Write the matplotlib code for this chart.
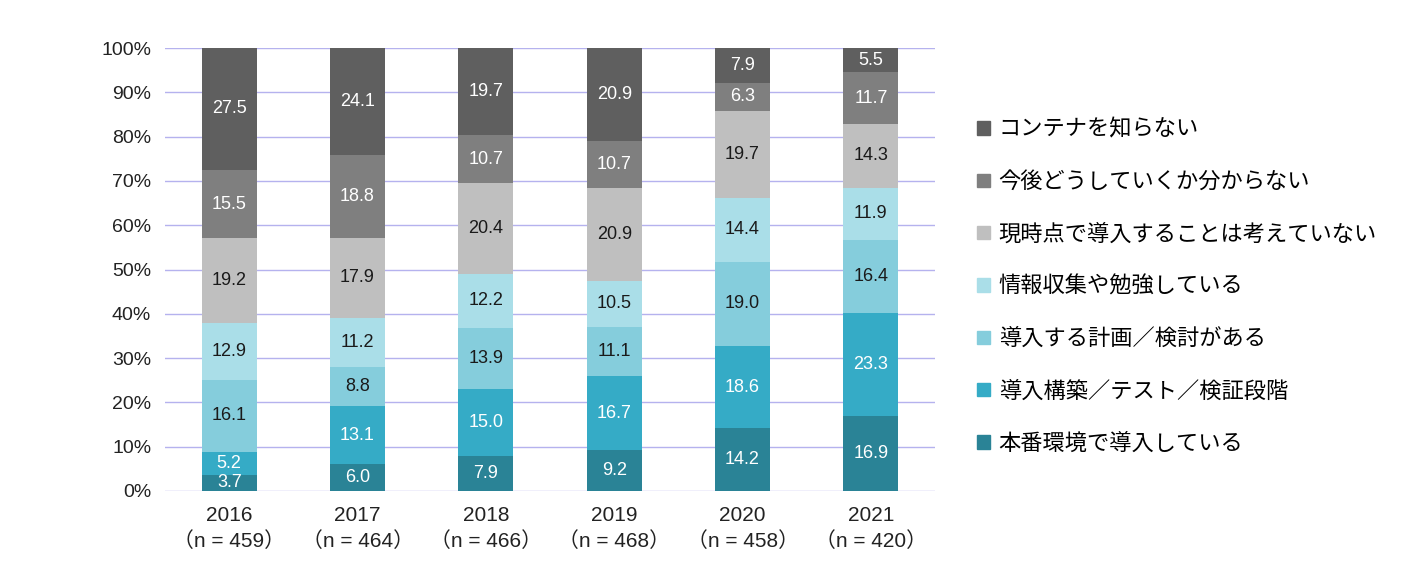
import matplotlib.pyplot as plt
import numpy as np
from matplotlib.patches import Patch

plt.rcParams['font.family'] = ['Liberation Sans', 'Noto Sans CJK JP', 'DejaVu Sans']

years = ["2016", "2017", "2018", "2019", "2020", "2021"]
n_counts = [459, 464, 466, 468, 458, 420]

# series from bottom to top of the stack
labels = [
    "本番環境で導入している",
    "導入構築／テスト／検証段階",
    "導入する計画／検討がある",
    "情報収集や勉強している",
    "現時点で導入することは考えていない",
    "今後どうしていくか分からない",
    "コンテナを知らない",
]
honban = [3.7, 6.0, 7.9, 9.2, 14.2, 16.9]
kouchiku = [5.2, 13.1, 15.0, 16.7, 18.6, 23.3]
keikaku = [16.1, 8.8, 13.9, 11.1, 19.0, 16.4]
jouhou = [12.9, 11.2, 12.2, 10.5, 14.4, 11.9]
genjiten = [19.2, 17.9, 20.4, 20.9, 19.7, 14.3]
kongo = [15.5, 18.8, 10.7, 10.7, 6.3, 11.7]
shiranai = [27.5, 24.1, 19.7, 20.9, 7.9, 5.5]
series = [honban, kouchiku, keikaku, jouhou, genjiten, kongo, shiranai]

colors = ["#2a8396", "#35abc6", "#85cddc", "#aadee8", "#bfbfbf", "#7f7f7f", "#5f5f5f"]
text_colors = ["white", "white", "#1a1a1a", "#1a1a1a", "#1a1a1a", "white", "white"]

fig = plt.figure(figsize=(14.06, 5.79), dpi=100)
ax = fig.add_axes([0.1174, 0.152, 0.5476, 0.765])

x = np.arange(len(years))
# 100% stacked: scale each column so it totals exactly 100
totals = np.sum(np.array(series), axis=0)
bottom = np.zeros(len(years))
for vals, c, tc in zip(series, colors, text_colors):
    vals = np.array(vals)
    h = vals / totals * 100
    ax.bar(x, h, bottom=bottom, width=0.43, color=c, zorder=2)
    for xi, b, hh, v in zip(x, bottom, h, vals):
        ax.text(xi, b + hh / 2, f"{v:.1f}", ha="center", va="center",
                color=tc, fontsize=13, zorder=3)
    bottom += h

ax.set_xlim(-0.5, len(years) - 0.5)
ax.set_ylim(0, 100)
ax.set_yticks(np.arange(0, 101, 10))
ax.set_yticklabels([f"{v}%" for v in range(0, 101, 10)], fontsize=14, color="#222222")
ax.set_xticks(x)
ax.set_xticklabels([f"{y}\n（n = {n}）" for y, n in zip(years, n_counts)],
                   fontsize=15, color="#222222", linespacing=1.35)
ax.tick_params(axis="y", length=0, pad=10)
ax.tick_params(axis="x", length=0, pad=11)
ax.grid(axis="y", color="#b5b2ee", linewidth=1, zorder=0)
for s in ax.spines.values():
    s.set_visible(False)

handles = [Patch(color=c, label=l) for c, l in zip(colors, labels)][::-1]
fig.legend(handles=handles, loc="upper left", bbox_to_anchor=(0.681, 0.831),
           frameon=False, prop={"family": "Noto Sans CJK JP", "size": 16},
           handlelength=0.55, handleheight=0.55, handletextpad=0.4,
           labelspacing=1.32)

fig.savefig("out.png", dpi=100)
